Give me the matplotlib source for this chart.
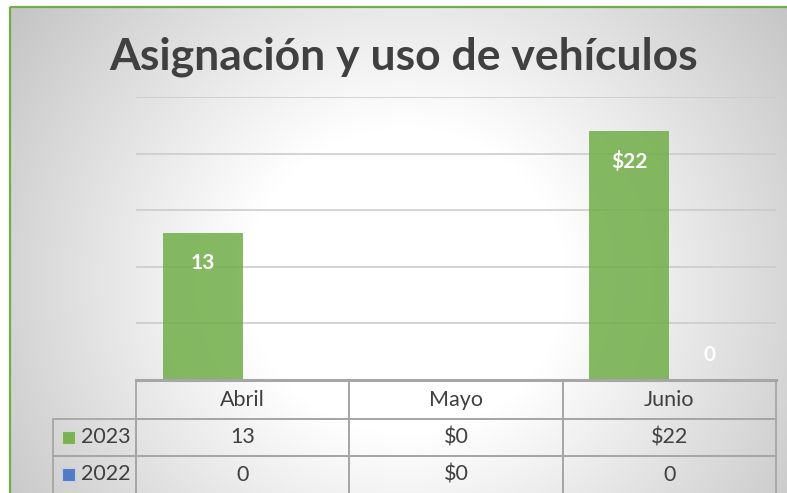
import numpy as np
import matplotlib.pyplot as plt
from matplotlib.patches import Rectangle

plt.rcParams["font.family"] = ["Lato", "DejaVu Sans"]

# data
months = ["Abril", "Mayo", "Junio"]
series = ["2023", "2022"]
values_2023 = [13, 0, 22]
values_2022 = [0, 0, 0]
labels_2023 = ["13", "$0", "$22"]
labels_2022 = ["0", "$0", "0"]
colors = ["#70ad47", "#4472c4"]

W, H = 787, 493
fig = plt.figure(figsize=(W / 100, H / 100), dpi=100)

# background: radial grey-white fill inside a green frame
bg = fig.add_axes([0, 0, 1, 1], zorder=-10)
yy, xx = np.mgrid[0:H, 0:W]
r = np.hypot(xx - 405, (yy - 280) * 1.05)
shade = 255 - 58 * np.clip((r - 160) / 320, 0, 1)
shade[:7, :] = 255
shade[:, :10] = 255
img = np.dstack([shade, shade, shade]) / 255
bg.imshow(img, extent=[0, W, H, 0], aspect="auto")
bg.add_patch(Rectangle((10, 7), W + 20, H + 20, fill=False, ec="#70ad47", lw=1.6))
bg.set_xlim(0, W)
bg.set_ylim(H, 0)
bg.axis("off")

fig.text(0.513, 1 - 57 / H, "Asignación y uso de vehículos", ha="center", va="center",
         fontsize=32, fontweight="bold", color="#404040")

ax = fig.add_axes([136 / W, 1 - 380 / H, 640 / W, 283 / H])
ax.patch.set_alpha(0)
x = np.arange(len(months))
bw = 0.375
ax.bar(x - bw / 2, values_2023, bw, color=colors[0], alpha=0.85, zorder=3)
ax.bar(x + bw / 2, values_2022, bw, color=colors[1], alpha=0.85, zorder=3)

for xs, vals, labs in [(x - bw / 2, values_2023, labels_2023), (x + bw / 2, values_2022, labels_2022)]:
    for xi, v, lab in zip(xs, vals, labs):
        off = -22 if v > 0 else 18
        ax.annotate(lab, (xi, v), xytext=(0, off), textcoords="offset points",
                    ha="center", va="center", color="white", fontsize=15,
                    fontweight="bold", zorder=4)

ax.set_xlim(-0.5, 2.5)
ax.set_ylim(0, 25)
ax.set_yticks([5, 10, 15, 20, 25])
ax.yaxis.grid(True, color="#c9c9c9", lw=1.1, zorder=0)
ax.tick_params(left=False, bottom=False, labelleft=False, labelbottom=False)
for s in ax.spines.values():
    s.set_visible(False)

# data table below the plot
cell_text = [[""] + months,
             [""] + labels_2023,
             [""] + labels_2022]
tbl = ax.table(cellText=cell_text, cellLoc="center",
               colWidths=[83, 213.3, 213.3, 213.3],
               bbox=[-83 / 640, (380 - 493.5) / 283, 723 / 640, 112.5 / 283])
tbl.auto_set_font_size(False)
for (ri, ci), cell in tbl.get_celld().items():
    cell.set_facecolor("none")
    cell.set_edgecolor("#a6a6a6")
    cell.set_linewidth(1.3)
    cell.get_text().set_color("#404040")
    cell.get_text().set_fontsize(15.5)
    if ri == 0 and ci == 0:
        cell.visible_edges = ""
ax.plot([0, 1], [0, 0], transform=ax.transAxes, color="#a6a6a6", lw=2.2,
        clip_on=False, zorder=5)

# legend keys in the row label column
for i, (name, c) in enumerate(zip(series, colors)):
    yc = 1 - (437 + 37.5 * i) / H
    fig.patches.append(Rectangle((62 / W, yc - 6.5 / H), 13 / W, 13 / H,
                                 transform=fig.transFigure, fc=c, ec="#d0e4c8" if i == 0 else "#c8d4ec",
                                 lw=0.8, alpha=0.9))
    fig.text(81 / W, yc, name, ha="left", va="center", fontsize=15.5, color="#404040")

fig.savefig("out.png", dpi=100)
